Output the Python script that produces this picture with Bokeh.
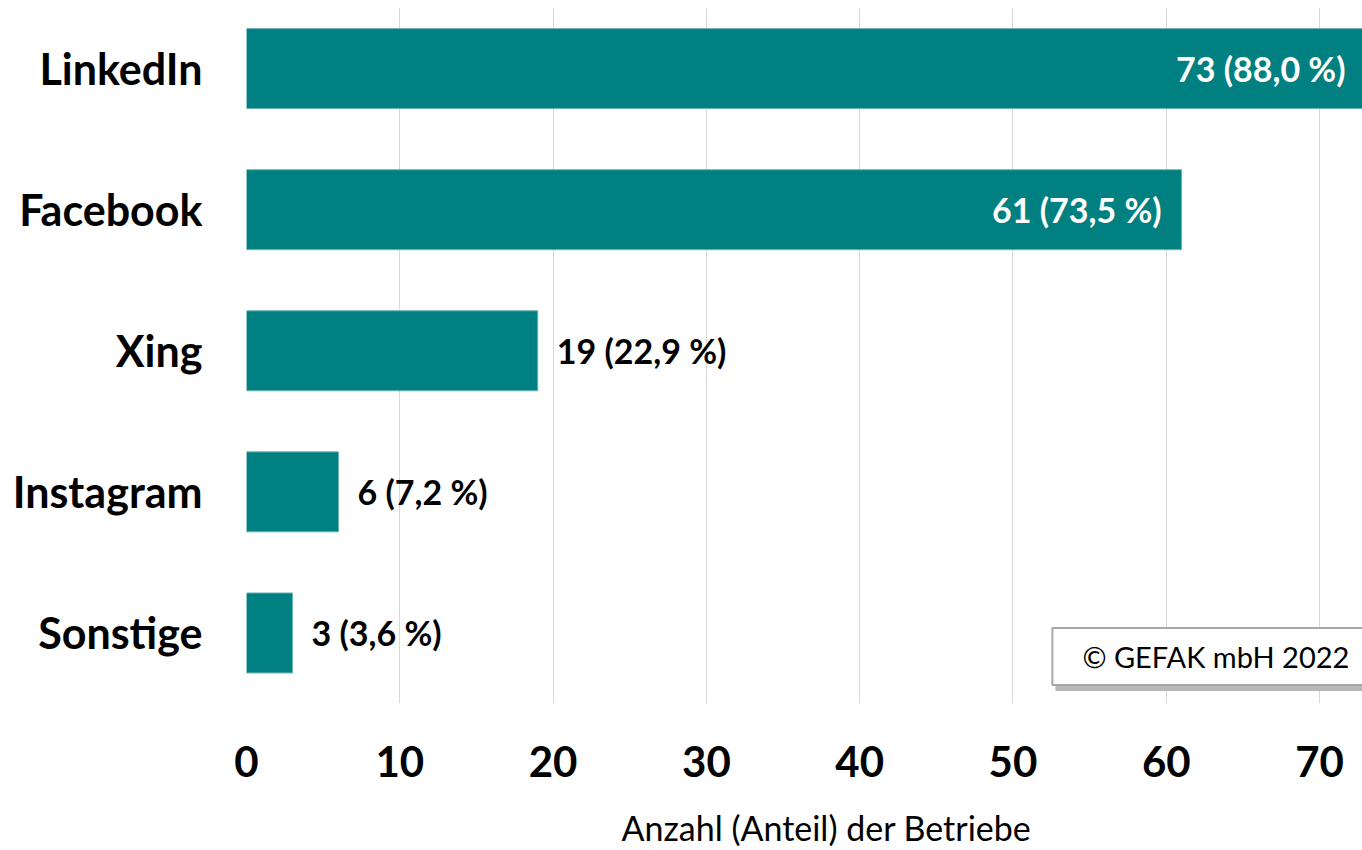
from bokeh.plotting import figure
from bokeh.models import ColumnDataSource, Label, FixedTicker, Range1d, Title
from bokeh.core.properties import value
from bokeh.embed import file_html
from bokeh.resources import INLINE

categories = ["LinkedIn", "Facebook", "Xing", "Instagram", "Sonstige"]
counts = [73, 61, 19, 6, 3]
shares = ["88,0", "73,5", "22,9", "7,2", "3,6"]
x_ticks = [0, 10, 20, 30, 40, 50, 60, 70]
x_title = "Anzahl (Anteil) der Betriebe"
copyright_text = "© GEFAK mbH 2022"

FONT = "Lato"
TEAL = "#008080"

n = len(categories)
ypos = [n - 1 - i for i in range(n)]
labels = [f"{c} ({s} %)" for c, s in zip(counts, shares)]

p = figure(width=1362, height=850, output_backend="svg", toolbar_location=None,
           x_range=Range1d(0, 72.8), y_range=Range1d(-0.5, 4.433),
           min_border_left=246, min_border_right=0, min_border_top=7, min_border_bottom=147)
p.outline_line_color = None
p.background_fill_color = "white"
p.border_fill_color = "white"

src = ColumnDataSource(dict(y=ypos, right=counts, cat=categories, lab=labels))
p.hbar(y="y", left=0, right="right", height=0.567, source=src,
       fill_color=TEAL, line_color="#6fb5b5", line_width=1)

inside = [i for i in range(n) if counts[i] > 30]
outside = [i for i in range(n) if counts[i] <= 30]
src_in = ColumnDataSource(dict(x=[counts[i] for i in inside], y=[ypos[i] for i in inside],
                               t=[labels[i] for i in inside]))
src_out = ColumnDataSource(dict(x=[counts[i] for i in outside], y=[ypos[i] for i in outside],
                                t=[labels[i] for i in outside]))
p.text(x="x", y="y", text="t", source=src_in, x_offset=-20, text_align="right",
       text_baseline="middle", text_color="white", text_font=value(FONT),
       text_font_style="bold", text_font_size="34px")
p.text(x="x", y="y", text="t", source=src_out, x_offset=19, text_align="left",
       text_baseline="middle", text_color="black", text_font=value(FONT),
       text_font_style="bold", text_font_size="34px")

# axes
p.xaxis.ticker = FixedTicker(ticks=x_ticks)
p.xaxis.axis_line_color = None
p.xaxis.major_tick_line_color = None
p.xaxis.minor_tick_line_color = None
p.xaxis.major_label_text_font = FONT
p.xaxis.major_label_text_font_style = "bold"
p.xaxis.major_label_text_font_size = "42px"
p.xaxis.major_label_text_color = "black"
p.xaxis.major_label_standoff = 36

p.yaxis.ticker = FixedTicker(ticks=ypos)
p.yaxis.major_label_overrides = {y: c for y, c in zip(ypos, categories)}
p.yaxis.axis_line_color = None
p.yaxis.major_tick_line_color = None
p.yaxis.minor_tick_line_color = None
p.yaxis.major_label_text_font = FONT
p.yaxis.major_label_text_font_style = "bold"
p.yaxis.major_label_text_font_size = "43px"
p.yaxis.major_label_text_color = "black"
p.yaxis.major_label_standoff = 38

p.xgrid.grid_line_color = "#d9d9d9"
p.xgrid.grid_line_width = 1
p.ygrid.grid_line_color = None

# axis title (below)
p.add_layout(Title(text=x_title, align="left", offset=375, text_font=FONT,
                   text_font_size="34px", text_font_style="normal", text_color="black",
                   standoff=0, vertical_align="bottom",
                   padding=dict(left=0, right=0, top=25, bottom=0)), "below")

# copyright box with shadow
SHADOW = "#b8b8b8"
p.add_layout(Label(x=52.57, y=-0.167, text=copyright_text, text_align="left",
                   text_baseline="middle", text_font=FONT, text_font_size="29px",
                   text_color=SHADOW, background_fill_color=SHADOW,
                   padding=dict(left=30, right=30, top=11, bottom=11), y_offset=-6, x_offset=3))
p.add_layout(Label(x=52.57, y=-0.167, text=copyright_text, text_align="left",
                   text_baseline="middle", text_font=FONT, text_font_size="29px",
                   text_color="black", background_fill_color="white",
                   border_line_color="#a6a6a6", border_line_width=2,
                   padding=dict(left=30, right=30, top=11, bottom=11)))

open("out.html", "w").write(file_html(p, INLINE))
